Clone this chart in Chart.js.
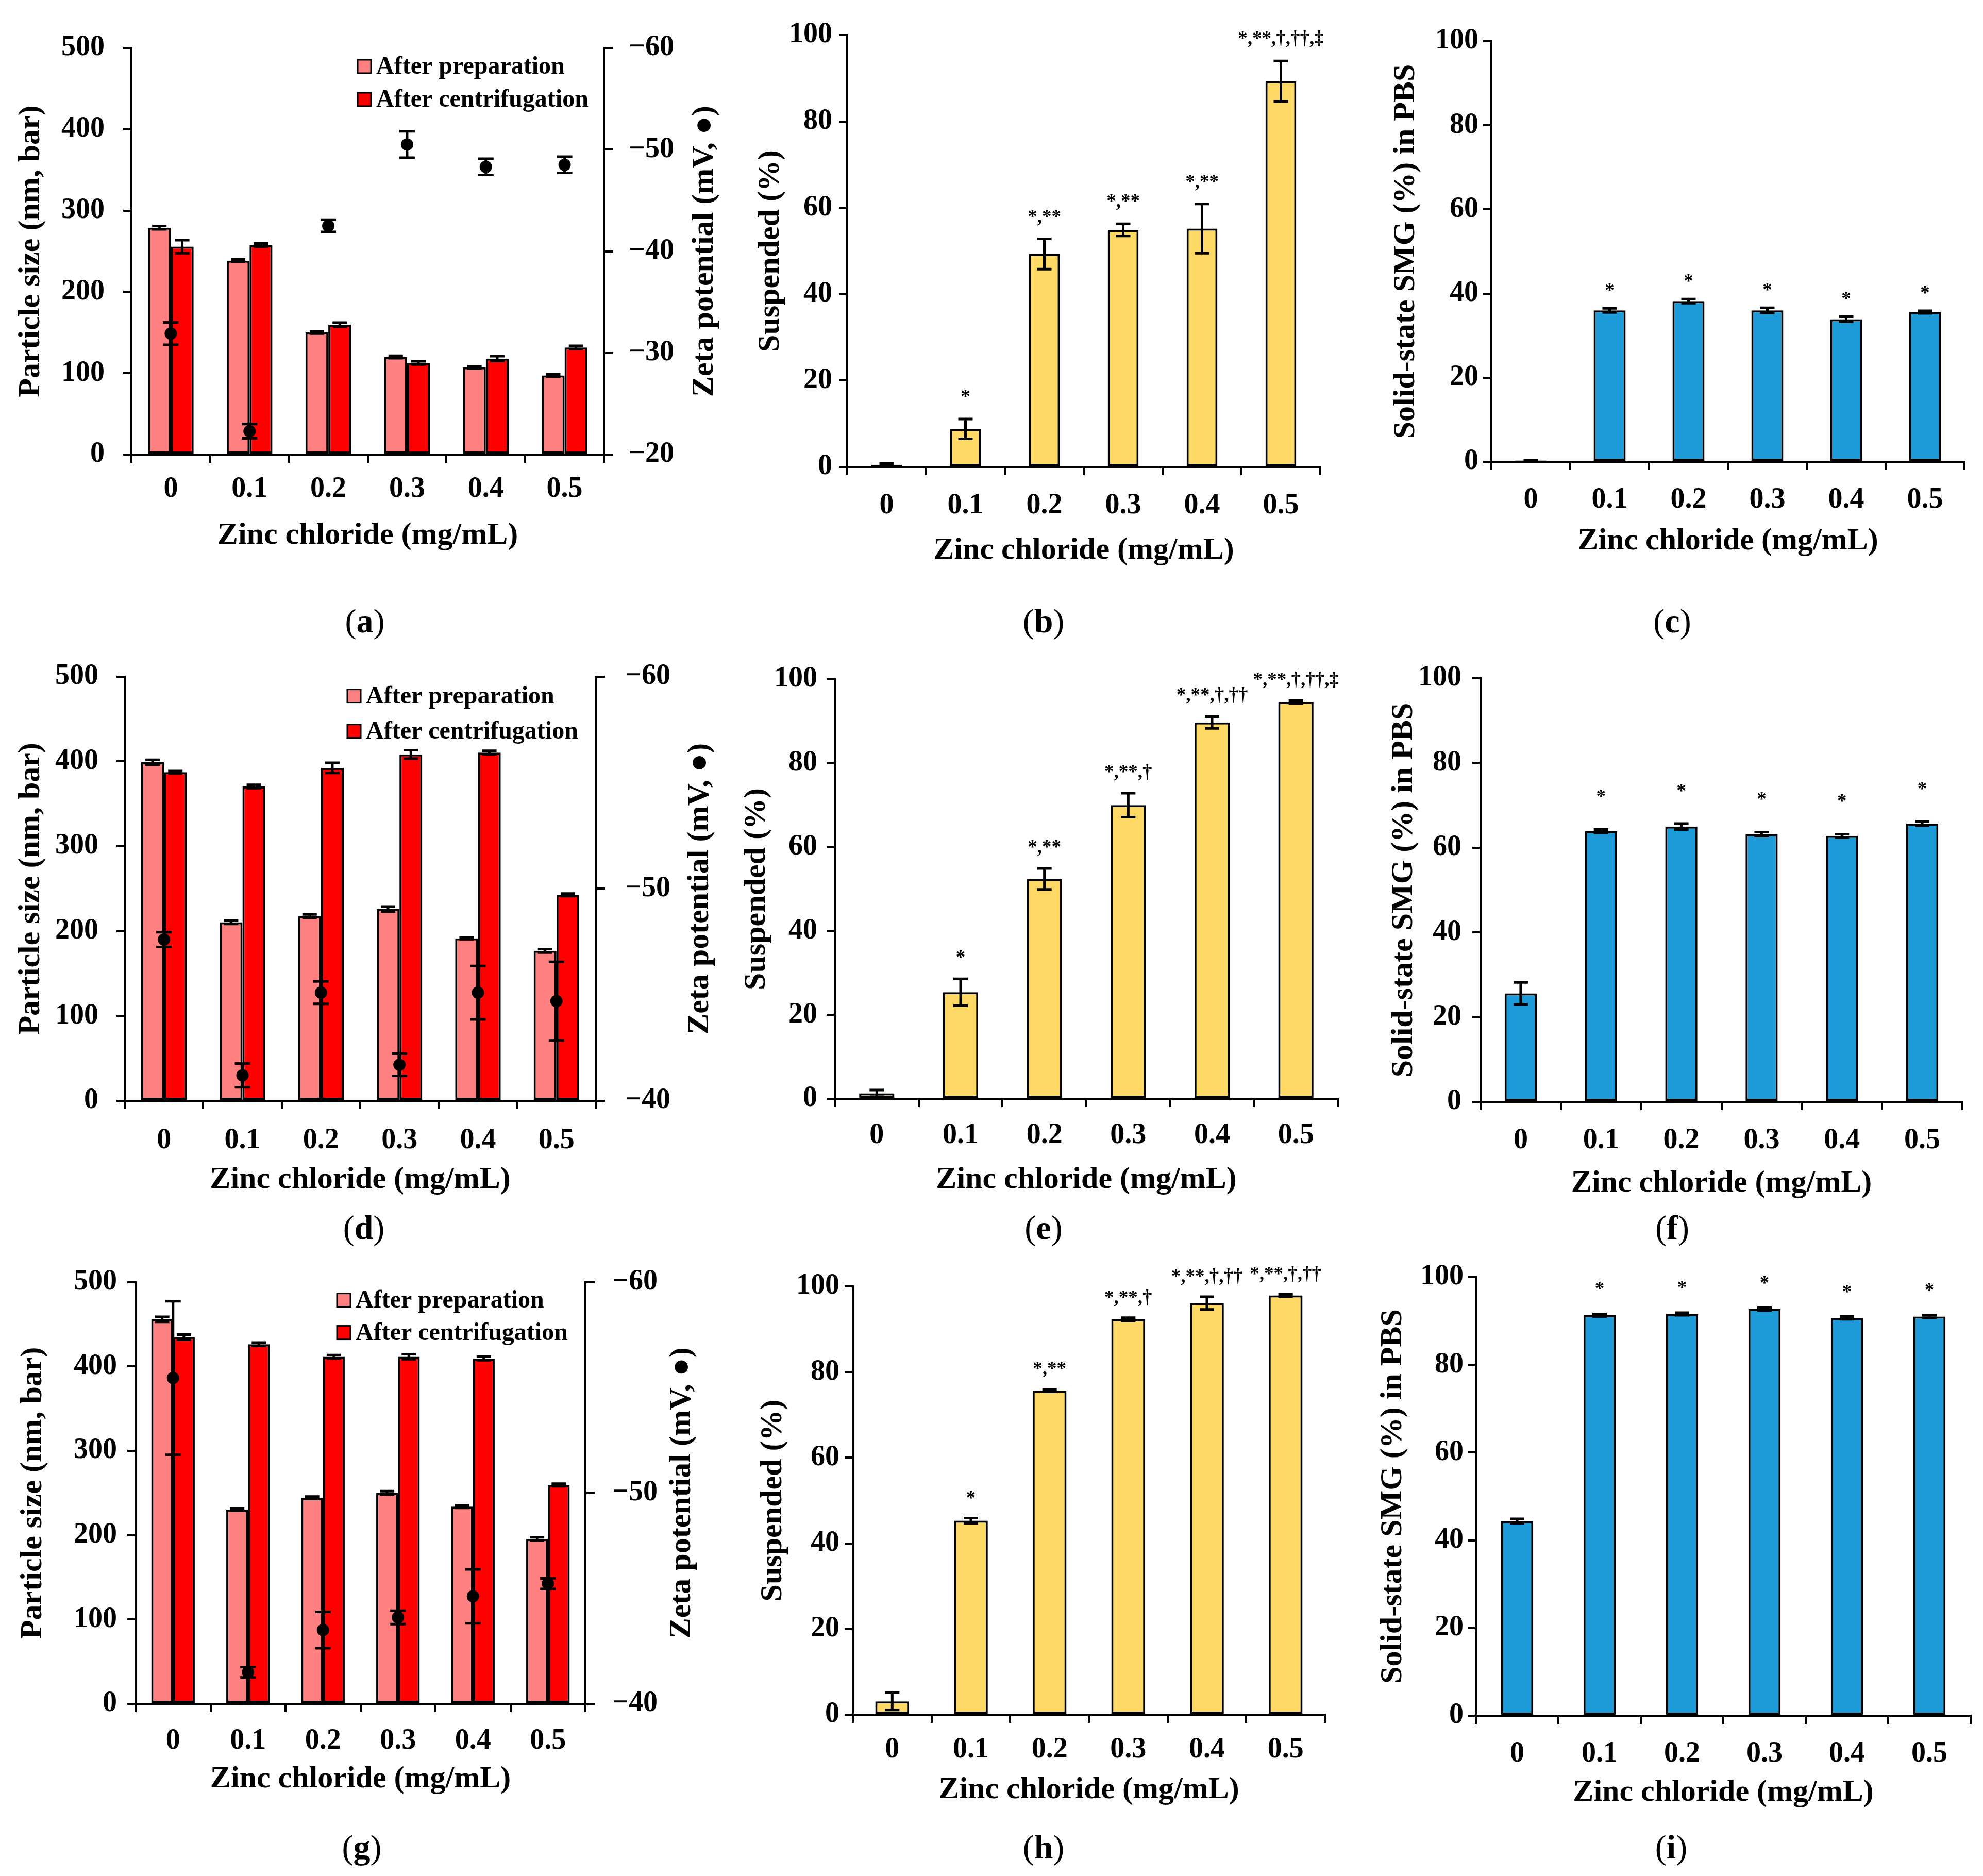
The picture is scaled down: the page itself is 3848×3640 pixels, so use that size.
<!DOCTYPE html>
<html><head><meta charset="utf-8">
<script src="https://cdn.jsdelivr.net/npm/chart.js@4.4.1/dist/chart.umd.min.js"></script>
<style>
html,body{margin:0;padding:0;background:#fff;}
#page{position:relative;width:3848px;height:3640px;overflow:hidden;background:#fff;}
#page canvas{position:absolute;}
.plabel{position:absolute;font-family:'Liberation Serif','Times New Roman',serif;font-size:66px;color:#000;transform:translate(-50%,-50%);line-height:1;white-space:nowrap;}
.plabel b{font-weight:bold;}
</style></head>
<body><div id="page"></div>
<script>
// ---------------- DATA ----------------
const doses = ['0', '0.1', '0.2', '0.3', '0.4', '0.5'];
const legendLabels = ['After preparation', 'After centrifugation'];

const sizeTicks = [0, 100, 200, 300, 400, 500];
const pctTicks = [0, 20, 40, 60, 80, 100];
const zetaTicksA = [-60, -50, -40, -30, -20];
const zetaTicksDG = [-60, -50, -40];

// (a)
const sizePrepA = [279, 238.5, 150.2, 120, 107.2, 97.3];
const sizePrepErrA = [2, 1.5, 1.5, 1.5, 1.5, 1.5];
const sizeCentA = [255.7, 257.5, 159.7, 112.7, 118, 131.7];
const sizeCentErrA = [8, 2, 2.5, 2, 3, 2];
const zetaA = [-31.9, -22.3, -42.5, -50.5, -48.3, -48.5];
const zetaErrA = [1.1, 0.7, 0.6, 1.3, 0.8, 0.8];
// (b)
const suspB = [0.5, 8.8, 49.3, 54.9, 55.2, 89.3];
const suspErrB = [0.3, 2.3, 3.5, 1.4, 5.7, 4.7];
const sigB = ['', '*', '*,**', '*,**', '*,**', '*,**,†,††,‡'];
// (c)
const solidC = [0.3, 36.0, 38.2, 36.0, 33.9, 35.6];
const solidErrC = [0.1, 0.5, 0.5, 0.6, 0.6, 0.3];
const sigC = ['', '*', '*', '*', '*', '*'];
// (d)
const sizePrepD = [398.9, 210.4, 217.6, 226, 191.5, 176.8];
const sizePrepErrD = [3, 2, 2, 3, 1, 2];
const sizeCentD = [387.2, 370.4, 392.3, 408.2, 410.4, 242.8];
const sizeCentErrD = [1.5, 2, 6, 5, 2, 1.5];
const zetaD = [-47.6, -41.2, -45.1, -41.7, -45.1, -44.7];
const zetaErrD = [0.35, 0.56, 0.53, 0.52, 1.26, 1.85];
// (e)
const suspE = [1.3, 25.4, 52.4, 70.0, 89.7, 94.6];
const suspErrE = [0.8, 3.2, 2.5, 2.85, 1.4, 0.3];
const sigE = ['', '*', '*,**', '*,**,†', '*,**,†,††', '*,**,†,††,‡'];
// (f)
const solidF = [25.6, 63.9, 65.0, 63.2, 62.8, 65.7];
const solidErrF = [2.6, 0.4, 0.7, 0.5, 0.4, 0.5];
const sigF = ['', '*', '*', '*', '*', '*'];
// (g)
const sizePrepG = [455.8, 230.4, 244.3, 250.2, 233.8, 195.5];
const sizePrepErrG = [3, 1.5, 1.5, 2, 1.5, 2];
const sizeCentG = [434.7, 426.3, 411.5, 411.5, 409.4, 259.5];
const sizeCentErrG = [3, 2, 2, 3, 2, 1.5];
const zetaG = [-55.45, -41.5, -43.5, -44.1, -45.1, -45.7];
const zetaErrG = [3.64, 0.25, 0.86, 0.32, 1.28, 0.25];
// (h)
const suspH = [3.1, 45.3, 75.7, 92.3, 96.1, 97.9];
const suspErrH = [2, 0.6, 0.3, 0.4, 1.5, 0.3];
const sigH = ['', '*', '*,**', '*,**,†', '*,**,†,††', '*,**,†,††'];
// (i)
const solidI = [44.4, 91.3, 91.6, 92.7, 90.7, 91.0];
const solidErrI = [0.5, 0.3, 0.3, 0.3, 0.3, 0.3];
const sigI = ['', '*', '*', '*', '*', '*'];

// ---------------- STYLE ----------------
const FONT = "'Liberation Serif', 'Times New Roman', serif";
const TICK = 56, TITLE = 60, LEG = 48, SIG = 37;
const COL = { prep: '#FF8080', cent: '#FF0000', susp: '#FFD966', solid: '#1D9BD8' };
const xTitle = 'Zinc chloride (mg/mL)';
const sizeTitle = 'Particle size (nm, bar)';
const zetaTitle = 'Zeta potential (mV, \u25CF)';
const suspTitle = 'Suspended (%)';
const solidTitle = 'Solid-state SMG (%) in PBS';

Chart.defaults.font.family = FONT;
Chart.defaults.color = '#000';

// ---------------- PLUGINS ----------------
const errorBarPlugin = {
  id: 'errorBars',
  afterDatasetsDraw(chart) {
    const ctx = chart.ctx;
    chart.data.datasets.forEach((ds, i) => {
      if (!ds.errors) return;
      const meta = chart.getDatasetMeta(i);
      const ys = chart.scales[meta.yAxisID];
      const cap = ds.capHalf || 14;
      ctx.save();
      ctx.strokeStyle = '#000'; ctx.lineWidth = 5; ctx.lineCap = 'butt';
      meta.data.forEach((el, j) => {
        const v = ds.data[j], e = ds.errors[j];
        if (v == null || !e) return;
        const x = el.x, y1 = ys.getPixelForValue(v + e), y2 = ys.getPixelForValue(v - e);
        ctx.beginPath();
        ctx.moveTo(x, y1); ctx.lineTo(x, y2);
        ctx.moveTo(x - cap, y1); ctx.lineTo(x + cap, y1);
        ctx.moveTo(x - cap, y2); ctx.lineTo(x + cap, y2);
        ctx.stroke();
      });
      ctx.restore();
    });
  }
};

const sigPlugin = {
  id: 'sigMarks',
  afterDatasetsDraw(chart, args, opts) {
    const ctx = chart.ctx;
    chart.data.datasets.forEach((ds, i) => {
      if (!ds.sig) return;
      const meta = chart.getDatasetMeta(i);
      const ys = chart.scales[meta.yAxisID];
      ctx.save();
      ctx.fillStyle = '#000';
      ctx.font = 'bold ' + SIG + 'px ' + FONT;
      ctx.textAlign = 'center'; ctx.textBaseline = 'alphabetic';
      meta.data.forEach((el, j) => {
        const t = ds.sig[j]; if (!t) return;
        const top = ys.getPixelForValue(ds.data[j] + (ds.errors ? ds.errors[j] : 0));
        ctx.fillText(t, el.x, top - (opts.gap || 28));
      });
      ctx.restore();
    });
  }
};

const boxLegend = {
  id: 'boxLegend',
  afterDraw(chart, args, opts) {
    if (!opts || !opts.show) return;
    const ctx = chart.ctx, ca = chart.chartArea;
    const x = ca.left + opts.dx;
    let y = ca.top + opts.dy;
    const s = 26;
    ctx.save();
    ctx.font = 'bold ' + LEG + 'px ' + FONT;
    ctx.textBaseline = 'middle'; ctx.textAlign = 'left';
    chart.data.datasets.forEach(ds => {
      if (ds.type !== 'bar') return;
      ctx.fillStyle = ds.backgroundColor; ctx.fillRect(x, y - s / 2, s, s);
      ctx.strokeStyle = '#000'; ctx.lineWidth = 3; ctx.strokeRect(x, y - s / 2, s, s);
      ctx.fillStyle = '#000'; ctx.fillText(ds.label, x + s + 10, y + 2);
      y += opts.gap;
    });
    ctx.restore();
  }
};

const rightTitle = {
  id: 'rightTitle',
  afterDraw(chart, args, opts) {
    if (!opts || !opts.text || !chart.scales.y1) return;
    const s = chart.scales.y1, ca = chart.chartArea, ctx = chart.ctx;
    ctx.save();
    ctx.translate(s.right - TITLE * 0.6, (ca.top + ca.bottom) / 2);
    ctx.rotate(-Math.PI / 2);
    ctx.font = 'bold ' + TITLE + 'px ' + FONT;
    ctx.fillStyle = '#000'; ctx.textAlign = 'center'; ctx.textBaseline = 'middle';
    ctx.fillText(opts.text, 0, 0);
    ctx.restore();
  }
};

// ---------------- BUILDERS ----------------
const page = document.getElementById('page');

function barDs(label, data, errors, color, catPct, barPct, sig) {
  const d = { type: 'bar', label, data, errors, backgroundColor: color, borderColor: '#000',
    borderWidth: 4, borderSkipped: false, categoryPercentage: catPct, barPercentage: barPct,
    yAxisID: 'y', order: 1 };
  if (sig) d.sig = sig;
  return d;
}
function zetaDs(data, errors) {
  return { type: 'line', label: 'Zeta potential', data, errors, yAxisID: 'y1', showLine: false,
    pointRadius: 12, pointHoverRadius: 12, pointBackgroundColor: '#000', pointBorderColor: '#000',
    pointBorderWidth: 0, capHalf: 15, order: 0 };
}

function buildPanel(p) {
  const lh = TITLE * 1.2, tl = 16, tlR = 18;
  const cLeft = Math.round(p.tl - lh / 2);
  const cTop = p.top;
  const padR = p.right ? 0 : 80;
  const cRight = p.right ? Math.round(p.right.titleX + lh / 2) : p.R + padR;
  const cBottom = Math.round(p.xt + lh / 2);
  const w = cRight - cLeft, h = cBottom - cTop;
  const cv = document.createElement('canvas');
  cv.width = w; cv.height = h;
  cv.style.left = cLeft + 'px'; cv.style.top = cTop + 'px';
  cv.style.width = w + 'px'; cv.style.height = h + 'px';
  page.appendChild(cv);

  const tickFont = { family: FONT, size: TICK, weight: 'bold' };
  const titleFont = { family: FONT, size: TITLE, weight: 'bold' };
  const grid = { display: true, drawOnChartArea: false, drawTicks: true, tickLength: tl, color: '#000', lineWidth: 4 };
  const border = { display: true, color: '#000', width: 4 };

  const scales = {
    x: {
      type: 'category', offset: true,
      grid: Object.assign({}, grid, { offset: true }), border,
      ticks: { color: '#000', font: tickFont, padding: p.xl - p.B - tl - TICK * 0.6, maxRotation: 0, minRotation: 0, autoSkip: false },
      title: { display: true, text: xTitle, color: '#000', font: titleFont, padding: 0 },
      afterFit: s => { s.height = cBottom - p.B; }
    },
    y: {
      type: 'linear', position: 'left',
      min: Math.min(...p.yTicks), max: Math.max(...p.yTicks),
      afterBuildTicks: s => { s.ticks = p.yTicks.map(v => ({ value: v })); },
      grid, border,
      ticks: { color: '#000', font: tickFont, padding: p.L - p.yLab - tl },
      title: { display: true, text: p.yTitle, color: '#000', font: titleFont, padding: 0 },
      afterFit: s => { s.width = p.L - cLeft; }
    }
  };
  if (p.right) {
    scales.y1 = {
      type: 'linear', position: 'right', reverse: true,
      min: Math.min(...p.right.ticks), max: Math.max(...p.right.ticks),
      afterBuildTicks: s => { s.ticks = p.right.ticks.map(v => ({ value: v })); },
      grid: Object.assign({}, grid, { tickLength: tlR }), border,
      ticks: { color: '#000', font: tickFont, padding: p.right.lab - p.R - tlR,
        callback: v => (v < 0 ? '\u2212' + Math.abs(v) : String(v)) },
      title: { display: false },
      afterFit: s => { s.width = cRight - p.R; }
    };
  }

  new Chart(cv, {
    type: 'bar',
    data: { labels: doses, datasets: p.datasets },
    options: {
      responsive: false, animation: false, devicePixelRatio: 1,
      layout: { padding: { left: 0, top: p.T - cTop, right: padR, bottom: 0 } },
      plugins: {
        legend: { display: false }, tooltip: { enabled: false },
        sigMarks: { gap: p.sigGap || 28 },
        boxLegend: p.legend ? Object.assign({ show: true }, p.legend) : { show: false },
        rightTitle: p.right ? { text: p.right.title } : {}
      },
      scales
    },
    plugins: [errorBarPlugin, sigPlugin, boxLegend, rightTitle]
  });
}

// ---------------- PANELS ----------------
const pairPct = 0.58;
buildPanel({ top: 0, tl: 60, L: 255, R: 1172, T: 93, B: 882, xl: 950, xt: 1039, yLab: 203,
  yTicks: sizeTicks, yTitle: sizeTitle,
  right: { lab: 1220, titleX: 1367, ticks: zetaTicksA, title: zetaTitle },
  legend: { dx: 439, dy: 36, gap: 64 },
  datasets: [barDs(legendLabels[0], sizePrepA, sizePrepErrA, COL.prep, pairPct, 1),
             barDs(legendLabels[1], sizeCentA, sizeCentErrA, COL.cent, pairPct, 1),
             zetaDs(zetaA, zetaErrA)] });
buildPanel({ top: 0, tl: 1495, L: 1644, R: 2562, T: 68, B: 906, xl: 982, xt: 1068, yLab: 1615,
  yTicks: pctTicks, yTitle: suspTitle, sigGap: 32,
  datasets: [barDs('Suspended', suspB, suspErrB, COL.susp, 1, 0.39, sigB)] });
buildPanel({ top: 0, tl: 2728, L: 2894, R: 3812, T: 80, B: 896, xl: 971, xt: 1050, yLab: 2869,
  yTicks: pctTicks, yTitle: solidTitle, sigGap: 23,
  datasets: [barDs('Solid-state SMG', solidC, solidErrC, COL.solid, 1, 0.405, sigC)] });

buildPanel({ top: 1240, tl: 60, L: 242, R: 1156, T: 1287, B: 2136, xl: 2214, xt: 2289, yLab: 191,
  yTicks: sizeTicks, yTitle: sizeTitle,
  right: { lab: 1213, titleX: 1358, ticks: zetaTicksDG, title: zetaTitle },
  legend: { dx: 432, dy: 38, gap: 68 },
  datasets: [barDs(legendLabels[0], sizePrepD, sizePrepErrD, COL.prep, pairPct, 1),
             barDs(legendLabels[1], sizeCentD, sizeCentErrD, COL.cent, pairPct, 1),
             zetaDs(zetaD, zetaErrD)] });
buildPanel({ top: 1240, tl: 1468, L: 1620, R: 2596, T: 1318, B: 2132, xl: 2204, xt: 2289, yLab: 1586,
  yTicks: pctTicks, yTitle: suspTitle, sigGap: 30,
  datasets: [barDs('Suspended', suspE, suspErrE, COL.susp, 1, 0.42, sigE)] });
buildPanel({ top: 1240, tl: 2724, L: 2873, R: 3808, T: 1316, B: 2138, xl: 2214, xt: 2296, yLab: 2836,
  yTicks: pctTicks, yTitle: solidTitle, sigGap: 52,
  datasets: [barDs('Solid-state SMG', solidF, solidErrF, COL.solid, 1, 0.40, sigF)] });

buildPanel({ top: 2420, tl: 64, L: 263, R: 1136, T: 2474, B: 3306, xl: 3379, xt: 3452, yLab: 227,
  yTicks: sizeTicks, yTitle: sizeTitle,
  right: { lab: 1188, titleX: 1323, ticks: zetaTicksDG, title: zetaTitle },
  legend: { dx: 391, dy: 35, gap: 63 },
  datasets: [barDs(legendLabels[0], sizePrepG, sizePrepErrG, COL.prep, pairPct, 1),
             barDs(legendLabels[1], sizeCentG, sizeCentErrG, COL.cent, pairPct, 1),
             zetaDs(zetaG, zetaErrG)] });
buildPanel({ top: 2420, tl: 1500, L: 1655, R: 2571, T: 2496, B: 3327, xl: 3396, xt: 3473, yLab: 1629,
  yTicks: pctTicks, yTitle: suspTitle, sigGap: 28,
  datasets: [barDs('Suspended', suspH, suspErrH, COL.susp, 1, 0.43, sigH)] });
buildPanel({ top: 2420, tl: 2703, L: 2864, R: 3824, T: 2478, B: 3329, xl: 3404, xt: 3478, yLab: 2840,
  yTicks: pctTicks, yTitle: solidTitle, sigGap: 37,
  datasets: [barDs('Solid-state SMG', solidI, solidErrI, COL.solid, 1, 0.39, sigI)] });

// ---------------- PANEL LABELS ----------------
const panelLetters = ['a', 'b', 'c', 'd', 'e', 'f', 'g', 'h', 'i'];
const labelPos = [[708, 1205], [2025, 1205], [3245, 1205],
                  [706, 2382], [2025, 2382], [3245, 2382],
                  [702, 3584], [2025, 3584], [3243, 3584]];
panelLetters.forEach((l, k) => {
  const d = document.createElement('div');
  d.className = 'plabel';
  d.style.left = labelPos[k][0] + 'px';
  d.style.top = labelPos[k][1] + 'px';
  d.innerHTML = '(<b>' + l + '</b>)';
  page.appendChild(d);
});
</script></body></html>
